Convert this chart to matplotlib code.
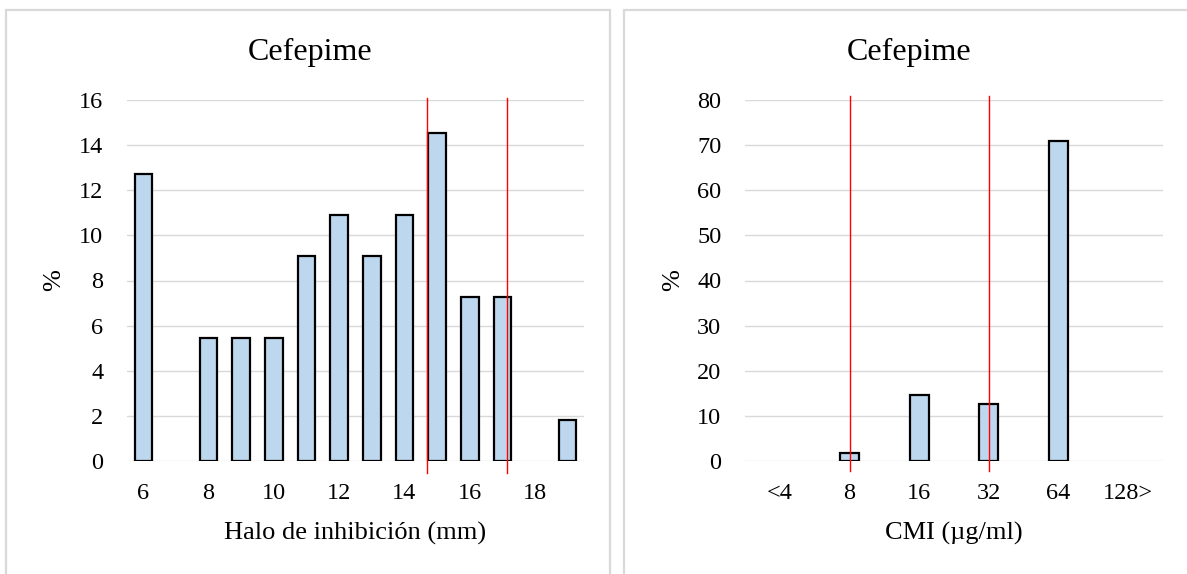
import matplotlib
matplotlib.use("Agg")
import matplotlib.pyplot as plt
from matplotlib.patches import Rectangle
import numpy as np

plt.rcParams['font.family'] = ['Liberation Serif', 'DejaVu Serif']

# left chart: inhibition halo distribution
halo_mm = list(range(6, 20))
halo_pct = [12.73, 0, 5.45, 5.45, 5.45, 9.09, 10.91, 9.09, 10.91, 14.55, 7.27, 7.27, 0, 1.82]
halo_ticks = [6, 8, 10, 12, 14, 16, 18]
halo_cutoffs = [14.68, 17.14]

# right chart: MIC distribution
cmi_labels = ['<4', '8', '16', '32', '64', '128>']
cmi_pct = [0, 1.82, 14.55, 12.73, 70.91, 0]
cmi_cutoffs = ['8', '32']

W, H = 1187, 574
fig = plt.figure(figsize=(W / 100, H / 100), dpi=100)

# panel frames (cropped at bottom/right like the screenshot)
border = '#d9d9d9'
fig.patches.append(Rectangle((5.5 / W, -0.1), (610.5 - 5.5) / W, 1.1 - 10 / H,
                             transform=fig.transFigure, fill=False, ec=border, lw=1.6))
fig.patches.append(Rectangle((624 / W, -0.1), 0.5, 1.1 - 10 / H,
                             transform=fig.transFigure, fill=False, ec=border, lw=1.6))


def px_axes(x0, x1, y0, y1):
    return fig.add_axes([x0 / W, 1 - y1 / H, (x1 - x0) / W, (y1 - y0) / H])


def style(ax, ymax, step):
    ax.set_ylim(0, ymax)
    ax.set_yticks(np.arange(0, ymax + 1, step))
    ax.grid(axis='y', color='#d9d9d9', lw=1.0, zorder=0)
    ax.set_axisbelow(True)
    for s in ax.spines.values():
        s.set_visible(False)
    ax.tick_params(length=0, labelsize=17.5, pad=16)
    ax.tick_params(axis='y', pad=17)
    ax.set_ylabel('%', fontsize=19)


def draw_bars(ax, x, vals, width):
    # Excel draws nothing for empty categories
    lws = [1.6 if v > 0 else 0 for v in vals]
    ax.bar(x, vals, width=width, color='#bdd7ee', edgecolor='black', linewidth=lws, zorder=2)


ax1 = px_axes(127, 584, 100, 461)
draw_bars(ax1, halo_mm, halo_pct, 0.54)
ax1.set_xlim(halo_mm[0] - 0.5, halo_mm[-1] + 0.5)
ax1.set_xticks(halo_ticks)
style(ax1, 16, 2)
for c in halo_cutoffs:
    ax1.plot([c, c], [-0.53, 16.1], color='red', lw=1.0, clip_on=False, zorder=3)
ax1.set_xlabel('Halo de inhibición (mm)', fontsize=19)
ax1.xaxis.set_label_coords(0.5, -0.168)
ax1.yaxis.set_label_coords(-0.135, 0.5)

ax2 = px_axes(745, 1163, 100, 461)
xpos = np.arange(len(cmi_labels))
draw_bars(ax2, xpos, cmi_pct, 0.27)
ax2.set_xlim(-0.5, len(cmi_labels) - 0.5)
ax2.set_xticks(xpos)
ax2.set_xticklabels(cmi_labels)
style(ax2, 80, 10)
for c in cmi_cutoffs:
    i = cmi_labels.index(c)
    ax2.plot([i, i], [-2.2, 80.9], color='red', lw=1.0, clip_on=False, zorder=3)
ax2.set_xlabel('CMI (µg/ml)', fontsize=19)
ax2.xaxis.set_label_coords(0.5, -0.168)
ax2.yaxis.set_label_coords(-0.145, 0.5)

fig.text(310 / W, 1 - 60 / H, 'Cefepime', ha='center', va='baseline', fontsize=23)
fig.text(909 / W, 1 - 60 / H, 'Cefepime', ha='center', va='baseline', fontsize=23)

fig.savefig('out.png', dpi=100)
